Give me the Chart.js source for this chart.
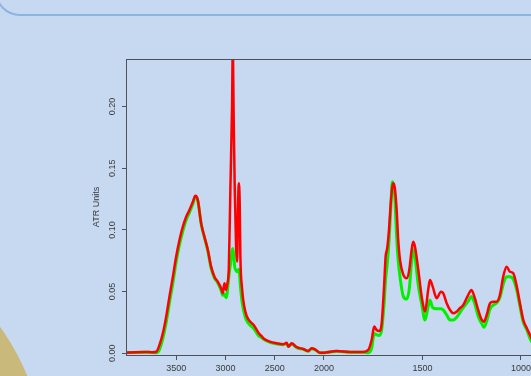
<!DOCTYPE html>
<html>
<head>
<meta charset="utf-8">
<title>ATR spectrum</title>
<script src="https://cdn.jsdelivr.net/npm/chart.js@4/dist/chart.umd.min.js"></script>
<style>
	body { margin: 0; background: #c6d9f1; overflow: hidden; }
	#wrap { position: relative; width: 531px; height: 376px; overflow: hidden; }
	#frame { position: absolute; left: -5px; top: -40px; width: 600px; height: 52px; border: 2px solid #8db3e2; border-radius: 25px; }
	#disc { position: absolute; left: -446px; top: 224px; width: 492px; height: 492px; border-radius: 50%; background: #c9b97b; }
	#chart { position: absolute; left: 0; top: 0; }
</style>
</head>
<body>
<div id="wrap">
	<div id="frame"></div>
	<div id="disc"></div>
	<canvas id="chart" width="531" height="376"></canvas>
</div>
<script>
	// wavenumber (cm-1)
	var wavenumbers = [4008, 3916, 3815, 3744, 3703, 3670, 3636, 3602, 3569, 3534, 3501, 3467, 3433, 3399, 3366, 3331, 3305, 3281, 3247, 3214,
		3179, 3146, 3112, 3078, 3044, 3027, 3011, 2994, 2984, 2966, 2950, 2933, 2926, 2916, 2906, 2892, 2882, 2872, 2865, 2855,
		2849, 2832, 2798, 2764, 2713, 2662, 2629, 2616, 2548, 2480, 2413, 2378, 2362, 2328, 2277, 2210, 2159, 2125, 2091, 2041,
		2007, 1986, 1936, 1868, 1801, 1775, 1758, 1745, 1733, 1719, 1707, 1695, 1687, 1679, 1670, 1661, 1653, 1648, 1640, 1631,
		1623, 1614, 1597, 1580, 1567, 1555, 1547, 1538, 1521, 1504, 1487, 1471, 1462, 1448, 1428, 1406, 1394, 1377, 1360, 1344,
		1327, 1310, 1293, 1268, 1251, 1234, 1217, 1199, 1188, 1174, 1157, 1141, 1123, 1107, 1090, 1073, 1056, 1039, 1021, 1005,
		988, 970, 954, 940];

	var sampleRed = [0.0005, 0.0008, 0.0011, 0.0008, 0.0012, 0.0067, 0.0162, 0.0297, 0.0459, 0.0621, 0.0783, 0.0918, 0.1026, 0.1107, 0.1161, 0.1229, 0.1277, 0.1242, 0.1053, 0.0945,
		0.0837, 0.0702, 0.0621, 0.0580, 0.0527, 0.0486, 0.0567, 0.0513, 0.0553, 0.0691, 0.134, 0.201, 0.246, 0.1877, 0.134, 0.0853, 0.0742, 0.120, 0.1378, 0.120,
		0.0797, 0.0529, 0.0337, 0.0270, 0.0229, 0.0162, 0.0135, 0.0122, 0.0094, 0.0081, 0.0073, 0.0086, 0.0053, 0.0081, 0.0049, 0.0035, 0.0019, 0.0041, 0.0032, 0.0005,
		0.0005, 0.0008, 0.0019, 0.0011, 0.0011, 0.0027, 0.0108, 0.0216, 0.0189, 0.0181, 0.0243, 0.054, 0.0783, 0.0851, 0.0999, 0.1216, 0.135, 0.1378, 0.1337, 0.1162,
		0.0918, 0.0756, 0.0635, 0.0608, 0.0675, 0.0837, 0.0904, 0.0864, 0.0675, 0.0459, 0.0337, 0.0513, 0.0594, 0.054, 0.0446, 0.0499, 0.0486, 0.0405, 0.0351, 0.0324,
		0.0337, 0.0365, 0.0391, 0.0472, 0.0513, 0.0446, 0.0351, 0.027, 0.0256, 0.031, 0.0405, 0.0418, 0.0418, 0.0472, 0.0621, 0.0702, 0.0661, 0.0648, 0.054, 0.0405,
		0.027, 0.0203, 0.0148, 0.010];

	var sampleGreen = [0.0005, 0.0007, 0.0009, 0.0006, 0.0005, 0.003, 0.012, 0.025, 0.041, 0.057, 0.074, 0.088, 0.099, 0.108, 0.114, 0.121, 0.127, 0.1235, 0.105, 0.094,
		0.083, 0.069, 0.061, 0.057, 0.051, 0.047, 0.048, 0.045, 0.048, 0.062, 0.072, 0.082, 0.085, 0.079, 0.070, 0.067, 0.066, 0.067, 0.068, 0.062,
		0.055, 0.042, 0.029, 0.024, 0.020, 0.014, 0.0125, 0.0115, 0.0088, 0.0076, 0.0070, 0.0080, 0.0055, 0.0075, 0.0045, 0.0032, 0.0017, 0.0037, 0.0030, 0.0004,
		0.0004, 0.0006, 0.0016, 0.0009, 0.0008, 0.0005, 0.004, 0.016, 0.015, 0.0145, 0.019, 0.040, 0.060, 0.072, 0.090, 0.117, 0.139, 0.137, 0.126, 0.094,
		0.075, 0.062, 0.046, 0.044, 0.052, 0.075, 0.084, 0.078, 0.055, 0.040, 0.027, 0.038, 0.043, 0.037, 0.036, 0.036, 0.035, 0.031, 0.027, 0.027,
		0.029, 0.033, 0.037, 0.042, 0.046, 0.040, 0.030, 0.024, 0.021, 0.026, 0.036, 0.039, 0.041, 0.045, 0.056, 0.062, 0.062, 0.060, 0.051, 0.038,
		0.025, 0.019, 0.012, 0.008];

	var xTicks = [3500, 3000, 2500, 2000, 1500, 1000];
	var yTicks = [0, 0.05, 0.10, 0.15, 0.20];

	// above 2000 cm-1 the axis is squeezed by a factor 2
	function toAxis(w) { return w > 2000 ? -(w - 2000) / 2 : 2000 - w; }
	function fromAxis(u) { return u < 0 ? 2000 - 2 * u : 2000 - u; }

	function points(values) {
		var out = [];
		for (var i = 0; i < wavenumbers.length; i++) {
			out.push({ x: toAxis(wavenumbers[i]), y: values[i] });
		}
		return out;
	}

	var axisColor = "#4d525a";
	var textColor = "#3a3a3a";

	var boxPlugin = {
		id: "box",
		afterDraw: function (chart) {
			var a = chart.chartArea, ctx = chart.ctx;
			ctx.save();
			ctx.strokeStyle = axisColor;
			ctx.lineWidth = 1;
			ctx.strokeRect(a.left + 0.5, a.top + 0.5, a.right - a.left + 5, a.bottom - a.top);
			ctx.restore();
		}
	};

	var canvas = document.getElementById("chart").getContext("2d");
	window.spectrum = new Chart(canvas, {
		type: "line",
		data: {
			datasets: [
				{
					label: "red",
					data: points(sampleRed),
					borderColor: "#ff0000",
					borderWidth: 2.5,
					pointRadius: 0,
					cubicInterpolationMode: "monotone"
				},
				{
					label: "green",
					data: points(sampleGreen),
					borderColor: "#00f000",
					borderWidth: 3,
					pointRadius: 0,
					cubicInterpolationMode: "monotone"
				}
			]
		},
		options: {
			responsive: false,
			animation: false,
			layout: { padding: { top: 59, left: 0, right: 0, bottom: 0 } },
			plugins: {
				legend: { display: false },
				tooltip: { enabled: false }
			},
			scales: {
				x: {
					type: "linear",
					min: toAxis(4010),
					max: toAxis(949),
					afterBuildTicks: function (s) {
						s.ticks = xTicks.map(function (w) { return { value: toAxis(w) }; });
					},
					afterFit: function (s) {
						s.height = 21;
						s.paddingLeft = 0;
						s.paddingRight = 0;
					},
					ticks: {
						callback: function (v) { return String(Math.round(fromAxis(v))); },
						color: textColor,
						font: { family: "Liberation Sans", size: 9 },
						padding: 3,
						maxRotation: 0,
						autoSkip: false
					},
					grid: { drawOnChartArea: false, tickLength: 5, color: axisColor },
					border: { color: axisColor, width: 1 }
				},
				y: {
					min: -0.0014,
					max: 0.2385,
					afterBuildTicks: function (s) {
						s.ticks = yTicks.map(function (v) { return { value: v }; });
					},
					afterFit: function (s) {
						s.width = 126;
						s.paddingTop = 0;
						s.paddingBottom = 0;
					},
					ticks: {
						callback: function (v) { return v.toFixed(2); },
						color: textColor,
						font: { family: "Liberation Sans", size: 9 },
						minRotation: 90,
						maxRotation: 90,
						crossAlign: "center",
						padding: 1
					},
					grid: { drawOnChartArea: false, tickLength: 4, color: axisColor },
					border: { color: axisColor, width: 1 },
					title: {
						display: true,
						text: "ATR Units",
						color: textColor,
						font: { family: "Liberation Sans", size: 9 },
						padding: { top: 91, bottom: 0 }
					}
				}
			}
		},
		plugins: [boxPlugin]
	});
</script>
</body>
</html>
